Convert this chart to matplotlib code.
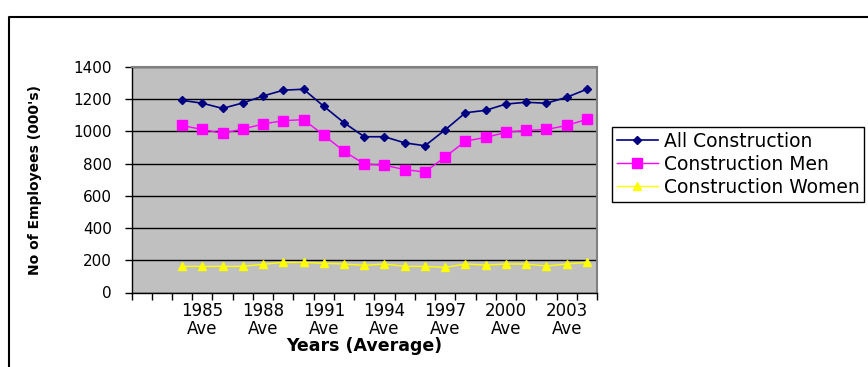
import matplotlib
matplotlib.use("Agg")
import matplotlib.pyplot as plt
from matplotlib.lines import Line2D
import numpy as np

plt.rcParams["font.family"] = ["DejaVu Sans"]

# category axis (first two categories carry no data)
categories = list(range(1982, 2005))
data_years = list(range(1984, 2005))
label_years = [1985, 1988, 1991, 1994, 1997, 2000, 2003]

# employees, thousands
all_construction = [1193, 1175, 1143, 1177, 1220, 1256, 1262, 1156, 1054, 967,
                    967, 929, 911, 1010, 1116, 1131, 1170, 1181, 1175, 1212, 1262]
construction_men = [1037, 1012, 988, 1015, 1046, 1067, 1073, 977, 877, 798,
                    790, 763, 748, 842, 940, 963, 994, 1006, 1012, 1037, 1075]
construction_women = [162, 162, 162, 162, 175, 187, 187, 181, 177, 168,
                      177, 162, 162, 156, 177, 170, 177, 177, 164, 177, 187]

W, H = 868, 367
fig = plt.figure(figsize=(W / 100, H / 100), dpi=100)
ax = fig.add_axes([131.5 / W, 1 - 292.5 / H, (597 - 131.5) / W, (292.5 - 67) / H])
ax.set_facecolor("#c0c0c0")

pos = [categories.index(y) + 1 for y in data_years]

ax.plot(pos, all_construction, color="#000080", marker="D", ms=4.5, lw=1.2,
        label="All Construction")
ax.plot(pos, construction_men, color="#ff00ff", marker="s", ms=6.5, lw=1.0,
        label="Construction Men")
ax.plot(pos, construction_women, color="#ffff00", marker="^", ms=6, lw=1.0,
        label="Construction Women")

ax.set_xlim(0.5, len(categories) + 0.5)
ax.set_ylim(0, 1400)
ax.set_yticks(range(0, 1401, 200))

# tick marks between categories, labels on category centres
ax.set_xticks(np.arange(0.5, len(categories) + 1, 1))
ax.set_xticklabels([])
label_pos = [categories.index(y) + 1 for y in label_years]
ax.set_xticks(label_pos, minor=True)
ax.set_xticklabels([f"{y}\nAve" for y in label_years], minor=True)
for t in ax.get_xticklabels(minor=True):
    t.set_linespacing(0.95)

ax.tick_params(axis="x", which="major", length=5, width=1, direction="out")
ax.tick_params(axis="x", which="minor", length=0, pad=7, labelsize=12)
ax.tick_params(axis="y", length=5, width=1, pad=9, labelsize=11)

ax.grid(axis="y", color="black", lw=1)
ax.set_axisbelow(True)

for side in ["top", "right"]:
    ax.spines[side].set_color("#808080")
    ax.spines[side].set_linewidth(1.5)
for side in ["left", "bottom"]:
    ax.spines[side].set_color("black")
    ax.spines[side].set_linewidth(1.0)

fig.text(35 / W, 1 - 180 / H, "No of Employees (000's)", rotation=90,
         fontsize=10, fontweight="bold", ha="center", va="center")
fig.text(364 / W, 1 - 346 / H, "Years (Average)", fontsize=12.5,
         fontweight="bold", ha="center", va="center")

leg = ax.legend(loc="upper left", bbox_to_anchor=(612 / W, 1 - 127 / H),
                bbox_transform=fig.transFigure, fancybox=False, edgecolor="black",
                framealpha=1, fontsize=13.5, handlelength=2.2, handletextpad=0.3,
                borderpad=0.25, labelspacing=0.22, borderaxespad=0)
leg.get_frame().set_linewidth(1.0)

# outer frame of the chart object
fig.add_artist(Line2D([9 / W, 9 / W, 1.01], [-0.01, 1 - 17 / H, 1 - 17 / H],
                      transform=fig.transFigure, color="black", lw=1.5))

fig.savefig("out.png", dpi=100)
